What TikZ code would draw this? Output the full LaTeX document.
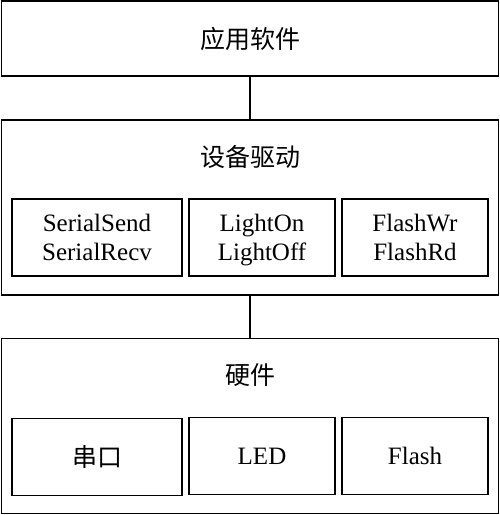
\documentclass[tikz,border=0pt]{standalone}
\usepackage{fontspec}
\setmainfont{Liberation Serif}
\newfontfamily\cjk{Noto Sans CJK SC}
\usepackage{tikz}
\usetikzlibrary{positioning}

\newcommand{\topstrut}{\rule{0pt}{26pt}}

\tikzset{
  layer/.style={draw, line width=1.6pt, minimum width=497pt, inner sep=0pt},
  func/.style={draw, line width=1.6pt, minimum height=77pt, inner sep=0pt, align=center},
  label/.style={inner sep=0pt},
}

\begin{document}
\begin{tikzpicture}[x=1pt, y=-1pt, font=\fontsize{25}{29}\selectfont, line width=1.6pt]
  \useasboundingbox (0,0) rectangle (500,515);
  % three layers
  \node[layer, minimum height=75pt] (app) at (250,38.5) {\cjk 应用软件};
  \node[layer, minimum height=175pt] (drv) at (250,207.5) {};
  \node[layer, minimum height=175pt] (hw) at (250,426) {};
  \node[label] (drvtitle) at (250,157) {\cjk 设备驱动};
  \node[label] (hwtitle) at (250,375) {\cjk 硬件};
  % driver functions
  \node[func, minimum width=170pt] (serial) at (97,237.5) {\topstrut SerialSend\\SerialRecv\strut};
  \node[func, minimum width=146pt] (light) at (262,237.5) {\topstrut LightOn\\LightOff\strut};
  \node[func, minimum width=146pt] (flash) at (415,237.5) {\topstrut FlashWr\\FlashRd\strut};
  % hardware
  \node[func, minimum width=170pt] (uart) at (97,457) {\cjk 串口};
  \node[func, minimum width=146pt] (led) at (262,456) {\topstrut LED\strut};
  \node[func, minimum width=146pt] (flashhw) at (415,456) {\topstrut Flash\strut};
  \path[draw]
  (app.south) -- (drv.north)
  (drv.south) -- (hw.north);
\end{tikzpicture}
\end{document}
